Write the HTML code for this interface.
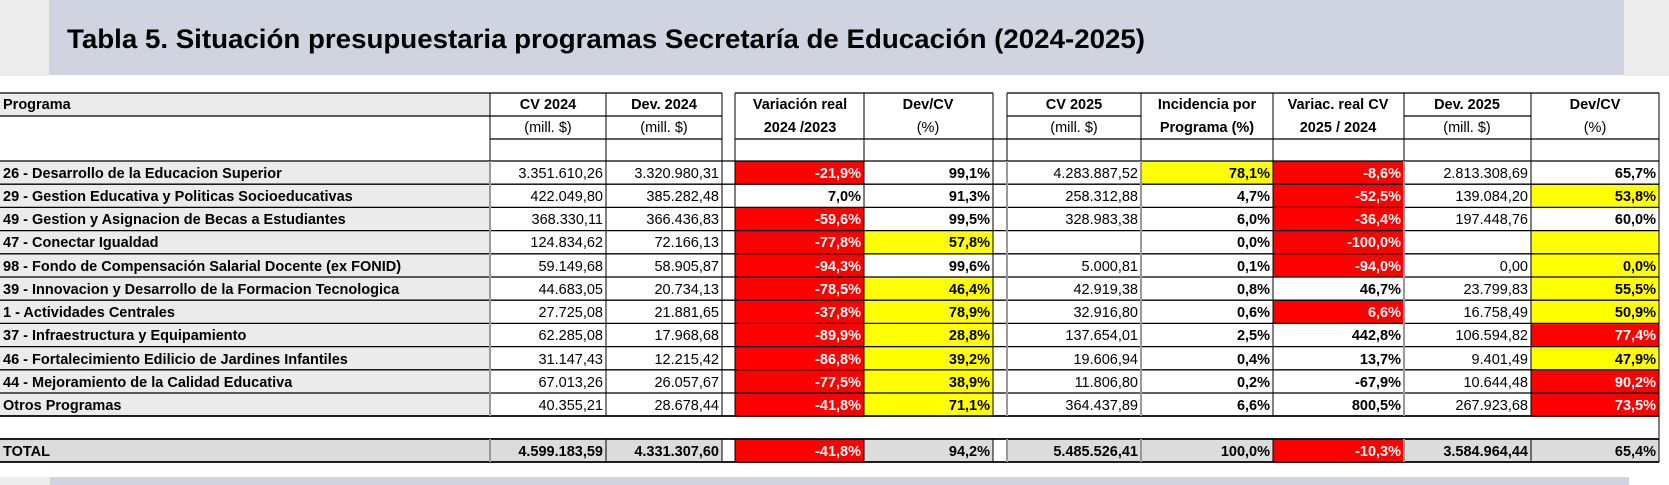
<!DOCTYPE html>
<html><head><meta charset="utf-8"><style>
html,body{margin:0;padding:0;background:#fff;width:1669px;height:485px;overflow:hidden}
svg text{font-family:"Liberation Sans Narrow","Liberation Sans",sans-serif;font-size:14.5px;fill:#000}
.b{font-weight:bold}.w{fill:#fff;font-weight:bold}
.t{font-family:"Liberation Sans","DejaVu Sans",sans-serif;font-size:27px;font-weight:bold}
</style></head><body>
<svg width="1669" height="485" xmlns="http://www.w3.org/2000/svg">
<rect x="0" y="0" width="49" height="76" fill="#ececec"/>
<rect x="1624" y="0" width="45" height="76" fill="#ececec"/>
<rect x="49" y="0" width="1575" height="75" fill="#cfd4e0"/>
<text x="67" y="48" class="t" textLength="1078" lengthAdjust="spacingAndGlyphs">Tabla 5. Situación presupuestaria programas Secretaría de Educación (2024-2025)</text>
<rect x="0" y="477" width="50" height="8" fill="#ececec"/>
<rect x="50" y="477" width="1579" height="8" fill="#cfd4e0"/>

<rect x="0" y="93" width="490" height="23" fill="#ebebeb"/>
<rect x="0" y="161" width="490" height="255" fill="#ebebeb"/>
<rect x="0" y="439" width="722" height="23" fill="#dcdcdc"/>
<rect x="735" y="439" width="258" height="23" fill="#dcdcdc"/>
<rect x="1007" y="439" width="652" height="23" fill="#dcdcdc"/>
<g fill="#ff0000">
<rect x="735" y="161" width="129" height="23.2"/>
<rect x="735" y="207.4" width="129" height="208.6"/>
<rect x="735" y="439" width="129" height="23"/>
<rect x="1273" y="161" width="131" height="92.8"/>
<rect x="1273" y="253.8" width="131" height="23.2"/>
<rect x="1273" y="300.2" width="131" height="23.2"/>
<rect x="1273" y="439" width="131" height="23"/>
<rect x="1531" y="323.4" width="128" height="23.2"/>
<rect x="1531" y="369.8" width="128" height="46.2"/>
</g>
<g fill="#ffff00">
<rect x="1141" y="161" width="132" height="23.2"/>
<rect x="864" y="230.6" width="129" height="23.2"/>
<rect x="864" y="277" width="129" height="139"/>
<rect x="1531" y="184.2" width="128" height="23.2"/>
<rect x="1531" y="230.6" width="128" height="92.8"/>
<rect x="1531" y="346.6" width="128" height="23.2"/>
</g>

<g stroke="#000" stroke-width="1.3">
<line x1="0" y1="93" x2="722" y2="93"/><line x1="735" y1="93" x2="993" y2="93"/><line x1="1007" y1="93" x2="1659" y2="93"/>
<line x1="0" y1="116" x2="722" y2="116"/><line x1="1007" y1="116" x2="1141" y2="116"/><line x1="1404" y1="116" x2="1531" y2="116"/>
<line x1="490" y1="139" x2="722" y2="139"/><line x1="735" y1="139" x2="1659" y2="139"/>
<line x1="0" y1="161" x2="1659" y2="161"/>
<line x1="0" y1="184.2" x2="1659" y2="184.2"/><line x1="0" y1="207.4" x2="1659" y2="207.4"/>
<line x1="0" y1="230.6" x2="1659" y2="230.6"/><line x1="0" y1="253.8" x2="1659" y2="253.8"/>
<line x1="0" y1="277" x2="1659" y2="277"/><line x1="0" y1="300.2" x2="1659" y2="300.2"/>
<line x1="0" y1="323.4" x2="1659" y2="323.4"/><line x1="0" y1="346.6" x2="1659" y2="346.6"/>
<line x1="0" y1="369.8" x2="1659" y2="369.8"/><line x1="0" y1="393" x2="1659" y2="393"/>
<line x1="0" y1="416" x2="1659" y2="416" stroke-width="1.8"/>
<line x1="0" y1="439" x2="1659" y2="439" stroke-width="1.8"/>
<line x1="0" y1="462" x2="1659" y2="462" stroke-width="1.8"/>
</g>
<g stroke="#000" stroke-width="1">
<line x1="606" y1="93" x2="606" y2="161"/><line x1="722" y1="93" x2="722" y2="161"/>
<line x1="735" y1="93" x2="735" y2="161"/><line x1="864" y1="93" x2="864" y2="161"/><line x1="993" y1="93" x2="993" y2="161"/>
<line x1="1007" y1="93" x2="1007" y2="161"/><line x1="1141" y1="93" x2="1141" y2="161"/><line x1="1273" y1="93" x2="1273" y2="161"/>
<line x1="1404" y1="93" x2="1404" y2="161"/><line x1="1531" y1="93" x2="1531" y2="161"/><line x1="1659" y1="93" x2="1659" y2="462"/>
<line x1="490" y1="93" x2="490" y2="161"/>
<path d="M606 161V416M864 161V416M1273 161V416M1531 161V416M722 161V416M735 161V416M993 161V416M606 439V462M864 439V462M1273 439V462M1531 439V462M722 439V462M735 439V462M993 439V462"/>
</g>
<g stroke="#999" stroke-width="2">
<path d="M490 161V416M1007 161V416M1141 161V416M1404 161V416M490 439V462M1007 439V462M1141 439V462M1404 439V462"/>
</g>

<g class="b" text-anchor="middle">
<text x="3" y="109" text-anchor="start">Programa</text>
<text x="548" y="109">CV 2024</text><text x="664" y="109">Dev. 2024</text>
<text x="800" y="109">Variación real</text><text x="928" y="109">Dev/CV</text>
<text x="1074" y="109">CV 2025</text><text x="1207" y="109">Incidencia por</text>
<text x="1338" y="109">Variac. real CV</text><text x="1467" y="109">Dev. 2025</text><text x="1595" y="109">Dev/CV</text>
<text x="800" y="132">2024 /2023</text><text x="1207" y="132">Programa (%)</text><text x="1338" y="132">2025 / 2024</text>
</g>
<g text-anchor="middle">
<text x="548" y="132">(mill. $)</text><text x="664" y="132">(mill. $)</text><text x="928" y="132">(%)</text>
<text x="1074" y="132">(mill. $)</text><text x="1467" y="132">(mill. $)</text><text x="1595" y="132">(%)</text>
</g>

<g class="b">
<text x="3" y="178">26 - Desarrollo de la Educacion Superior</text>
<text x="3" y="201">29 - Gestion Educativa y Politicas Socioeducativas</text>
<text x="3" y="224">49 - Gestion y Asignacion de Becas a Estudiantes</text>
<text x="3" y="247">47 - Conectar Igualdad</text>
<text x="3" y="271">98 - Fondo de Compensación Salarial Docente (ex FONID)</text>
<text x="3" y="294">39 - Innovacion y Desarrollo de la Formacion Tecnologica</text>
<text x="3" y="317">1 - Actividades Centrales</text>
<text x="3" y="340">37 - Infraestructura y Equipamiento</text>
<text x="3" y="364">46 - Fortalecimiento Edilicio de Jardines Infantiles</text>
<text x="3" y="387">44 - Mejoramiento de la Calidad Educativa</text>
<text x="3" y="410">Otros Programas</text>
<text x="3" y="456">TOTAL</text>
</g>

<g text-anchor="end">
<text x="603" y="178">3.351.610,26</text><text x="719" y="178">3.320.980,31</text><text x="1138" y="178">4.283.887,52</text><text x="1528" y="178">2.813.308,69</text>
<text x="603" y="201">422.049,80</text><text x="719" y="201">385.282,48</text><text x="1138" y="201">258.312,88</text><text x="1528" y="201">139.084,20</text>
<text x="603" y="224">368.330,11</text><text x="719" y="224">366.436,83</text><text x="1138" y="224">328.983,38</text><text x="1528" y="224">197.448,76</text>
<text x="603" y="247">124.834,62</text><text x="719" y="247">72.166,13</text>
<text x="603" y="271">59.149,68</text><text x="719" y="271">58.905,87</text><text x="1138" y="271">5.000,81</text><text x="1528" y="271">0,00</text>
<text x="603" y="294">44.683,05</text><text x="719" y="294">20.734,13</text><text x="1138" y="294">42.919,38</text><text x="1528" y="294">23.799,83</text>
<text x="603" y="317">27.725,08</text><text x="719" y="317">21.881,65</text><text x="1138" y="317">32.916,80</text><text x="1528" y="317">16.758,49</text>
<text x="603" y="340">62.285,08</text><text x="719" y="340">17.968,68</text><text x="1138" y="340">137.654,01</text><text x="1528" y="340">106.594,82</text>
<text x="603" y="364">31.147,43</text><text x="719" y="364">12.215,42</text><text x="1138" y="364">19.606,94</text><text x="1528" y="364">9.401,49</text>
<text x="603" y="387">67.013,26</text><text x="719" y="387">26.057,67</text><text x="1138" y="387">11.806,80</text><text x="1528" y="387">10.644,48</text>
<text x="603" y="410">40.355,21</text><text x="719" y="410">28.678,44</text><text x="1138" y="410">364.437,89</text><text x="1528" y="410">267.923,68</text>
</g>
<g text-anchor="end" class="b">
<text x="603" y="456">4.599.183,59</text><text x="719" y="456">4.331.307,60</text><text x="1138" y="456">5.485.526,41</text><text x="1528" y="456">3.584.964,44</text>
<text x="990" y="178">99,1%</text><text x="1270" y="178">78,1%</text><text x="1656" y="178">65,7%</text>
<text x="861" y="201">7,0%</text><text x="990" y="201">91,3%</text><text x="1270" y="201">4,7%</text><text x="1656" y="201">53,8%</text>
<text x="990" y="224">99,5%</text><text x="1270" y="224">6,0%</text><text x="1656" y="224">60,0%</text>
<text x="990" y="247">57,8%</text><text x="1270" y="247">0,0%</text>
<text x="990" y="271">99,6%</text><text x="1270" y="271">0,1%</text><text x="1656" y="271">0,0%</text>
<text x="990" y="294">46,4%</text><text x="1270" y="294">0,8%</text><text x="1401" y="294">46,7%</text><text x="1656" y="294">55,5%</text>
<text x="990" y="317">78,9%</text><text x="1270" y="317">0,6%</text><text x="1656" y="317">50,9%</text>
<text x="990" y="340">28,8%</text><text x="1270" y="340">2,5%</text><text x="1401" y="340">442,8%</text>
<text x="990" y="364">39,2%</text><text x="1270" y="364">0,4%</text><text x="1401" y="364">13,7%</text><text x="1656" y="364">47,9%</text>
<text x="990" y="387">38,9%</text><text x="1270" y="387">0,2%</text><text x="1401" y="387">-67,9%</text>
<text x="990" y="410">71,1%</text><text x="1270" y="410">6,6%</text><text x="1401" y="410">800,5%</text>
<text x="990" y="456">94,2%</text><text x="1270" y="456">100,0%</text><text x="1656" y="456">65,4%</text>
</g>
<g text-anchor="end" class="w">
<text class="w" x="861" y="178">-21,9%</text><text class="w" x="1401" y="178">-8,6%</text>
<text class="w" x="1401" y="201">-52,5%</text>
<text class="w" x="861" y="224">-59,6%</text><text class="w" x="1401" y="224">-36,4%</text>
<text class="w" x="861" y="247">-77,8%</text><text class="w" x="1401" y="247">-100,0%</text>
<text class="w" x="861" y="271">-94,3%</text><text class="w" x="1401" y="271">-94,0%</text>
<text class="w" x="861" y="294">-78,5%</text>
<text class="w" x="861" y="317">-37,8%</text><text class="w" x="1401" y="317">6,6%</text>
<text class="w" x="861" y="340">-89,9%</text><text class="w" x="1656" y="340">77,4%</text>
<text class="w" x="861" y="364">-86,8%</text>
<text class="w" x="861" y="387">-77,5%</text><text class="w" x="1656" y="387">90,2%</text>
<text class="w" x="861" y="410">-41,8%</text><text class="w" x="1656" y="410">73,5%</text>
<text class="w" x="861" y="456">-41,8%</text><text class="w" x="1401" y="456">-10,3%</text>
</g>
</svg>
</body></html>
